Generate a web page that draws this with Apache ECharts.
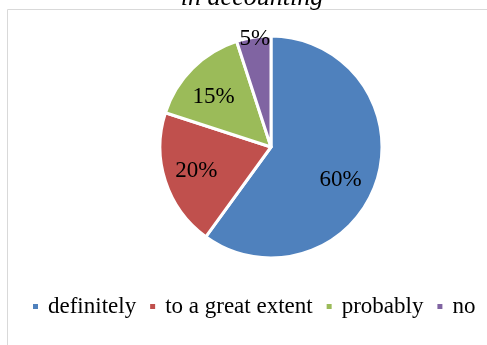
<!DOCTYPE html>
<html>
<head>
<meta charset="utf-8">
<style>
  html, body { margin: 0; padding: 0; background: #ffffff; }
  #chart { width: 487px; height: 345px; }
</style>
<script src="https://cdn.jsdelivr.net/npm/echarts@6/dist/echarts.min.js"></script>
</head>
<body>
<div id="chart"></div>
<script>
// Survey answers, share of respondents (%)
const categories = ['definitely', 'to a great extent', 'probably', 'no'];
const shares = [60, 20, 15, 5];
const titleText = 'in accounting';

const colors = ['#4F81BD', '#C0504D', '#9BBB59', '#8064A2'];
// nudges that move each percentage label away from the default mid-radius spot
const labelNudge = [[14, 15], [-19, 6], [-16, -9], [-7, -50]];

const serif = '"Liberation Serif", "Times New Roman", serif';

const chart = echarts.init(document.getElementById('chart'), null, { renderer: 'canvas' });

chart.setOption({
  animation: false,
  color: colors,
  title: {
    text: titleText,
    left: 252,
    textAlign: 'center',
    top: -15,
    padding: 0,
    textStyle: {
      fontFamily: serif,
      fontStyle: 'italic',
      fontWeight: 'normal',
      fontSize: 26,
      lineHeight: 26,
      color: '#000000'
    }
  },
  graphic: [{
    type: 'rect',
    shape: { x: 7.5, y: 9.5, width: 520, height: 400 },
    style: { fill: 'none', stroke: '#d9d9d9', lineWidth: 1 },
    silent: true,
    z: -1
  }],
  legend: {
    data: categories,
    left: 31,
    top: 295,
    padding: 0,
    itemWidth: 7,
    itemHeight: 7,
    itemGap: 12,
    icon: 'rect',
    textStyle: {
      fontFamily: serif,
      fontSize: 23,
      lineHeight: 23,
      color: '#000000',
      padding: [0, 0, 0, 4]
    }
  },
  series: [{
    type: 'pie',
    center: [271, 147],
    radius: 111,
    startAngle: 90,
    clockwise: true,
    avoidLabelOverlap: false,
    itemStyle: { borderColor: '#ffffff', borderWidth: 3 },
    label: {
      show: true,
      position: 'inside',
      formatter: '{c}%',
      fontFamily: serif,
      fontSize: 23,
      color: '#000000'
    },
    labelLine: { show: false },
    emphasis: { disabled: true },
    data: categories.map((name, i) => ({
      name: name,
      value: shares[i],
      label: { offset: labelNudge[i] }
    }))
  }]
});
</script>
</body>
</html>
